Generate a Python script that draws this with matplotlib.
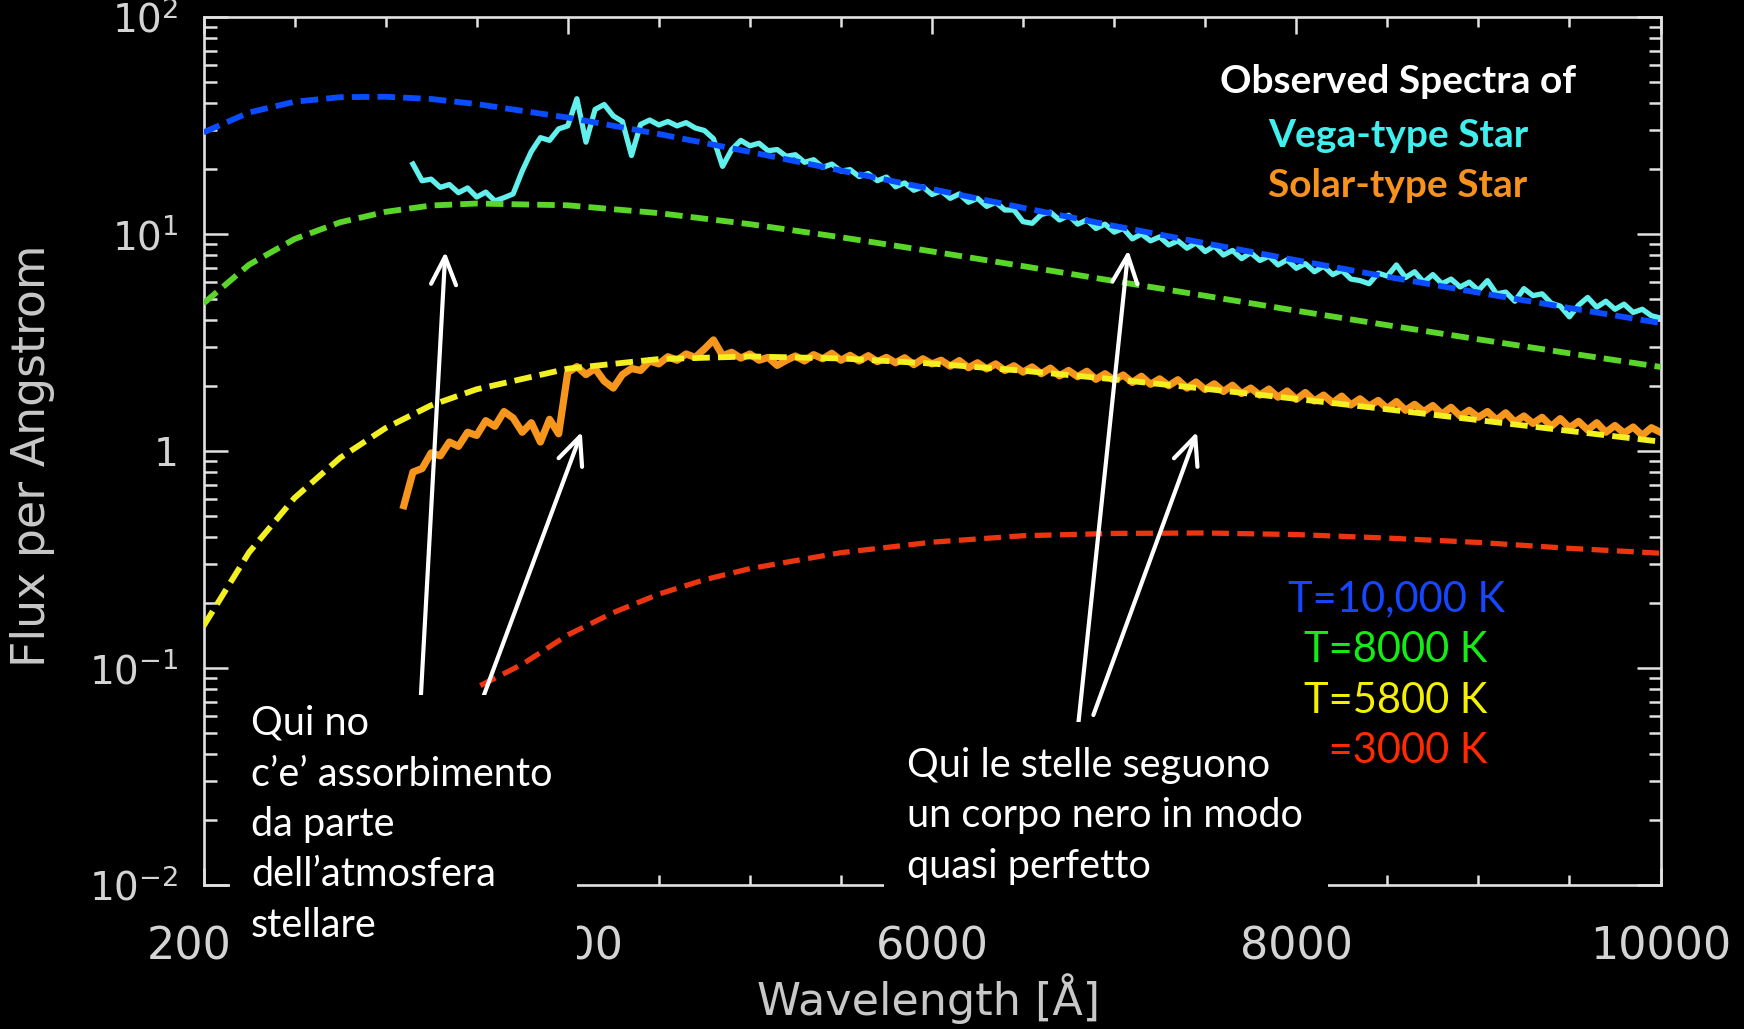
#!/usr/bin/env python

import numpy as np
import matplotlib
matplotlib.use("Agg")
import matplotlib.pyplot as plt
from matplotlib.patches import Rectangle
from matplotlib.ticker import MultipleLocator, LogLocator, NullFormatter

# blackbody curves, wavelength in Angstrom
bb_wl = [2000, 2250, 2500, 2750, 3000, 3250, 3500, 4000, 4500, 5000,
         5500, 6000, 6500, 7000, 7500, 8000, 8500, 9000, 9500, 10000]
bb_10000 = [29.4, 36.3, 40.7, 42.7, 42.9, 41.9, 39.7, 34.4, 28.9, 23.9,
            19.6, 16.1, 13.2, 10.9, 9.07, 7.57, 6.35, 5.37, 4.56, 3.89]
bb_8000 = [4.79, 7.22, 9.48, 11.32, 12.65, 13.53, 13.82, 13.56, 12.48, 11.10,
           9.66, 8.31, 7.11, 6.07, 5.19, 4.43, 3.80, 3.27, 2.82, 2.44]
bb_5800 = [0.156, 0.341, 0.608, 0.930, 1.276, 1.624, 1.925, 2.396, 2.653, 2.727,
           2.670, 2.529, 2.343, 2.140, 1.935, 1.739, 1.556, 1.388, 1.237, 1.104]

red_wl = [3520, 3750, 4000, 4250, 4500, 4750, 5000, 5500, 6000,
          6500, 7000, 7500, 8000, 8500, 9000, 9500, 10000]
bb_3000 = [0.083, 0.104, 0.142, 0.180, 0.219, 0.255, 0.287, 0.340, 0.380,
           0.407, 0.417, 0.419, 0.412, 0.397, 0.379, 0.356, 0.338]

# observed spectra, one value every 50 A
vega_start = 3150
vega_flux = [21.0, 17.6, 17.9, 16.4, 16.9, 15.5, 16.3, 14.8, 15.6, 14.2,
             14.7, 15.3, 19.5, 24.0, 27.8, 27.0, 30.5, 31.5, 42.0, 26.5,
             37.5, 39.5, 35.0, 33.0, 23.0, 32.0, 33.5, 31.8, 33.0, 31.5,
             32.6, 30.8, 30.0, 27.5, 20.5, 24.5, 27.0, 25.5, 26.2, 24.2,
             24.5, 22.8, 23.2, 21.4, 22.0, 20.3, 21.0, 19.5, 19.8, 18.4,
             19.0, 17.6, 18.3, 16.5, 17.2, 15.9, 16.5, 15.2, 15.8, 14.6,
             15.3, 14.0, 14.6, 13.4, 14.0, 12.9, 12.9, 11.4, 11.2, 12.3,
             12.6, 11.6, 12.2, 11.1, 11.6, 10.6, 11.1, 10.2, 10.6, 9.5,
             10.0, 9.3, 9.7, 8.9, 9.3, 8.6, 9.1, 8.3, 8.8, 8.0,
             8.4, 7.7, 8.2, 7.55, 7.9, 7.2, 7.6, 6.95, 7.3, 6.7,
             7.1, 6.5, 6.8, 6.2, 6.1, 5.9, 6.6, 6.4, 7.2, 6.3,
             6.7, 6.0, 6.5, 5.9, 6.2, 5.7, 6.0, 5.5, 6.1, 5.3,
             5.4, 4.9, 5.6, 5.2, 5.3, 4.8, 4.65, 4.15, 4.7, 5.1,
             4.6, 4.9, 4.5, 4.75, 4.35, 4.5, 4.2, 4.1]

sun_start = 3100
sun_flux = [0.56, 0.80, 0.83, 0.98, 0.95, 1.10, 1.05, 1.22, 1.18, 1.38,
            1.30, 1.52, 1.42, 1.22, 1.35, 1.10, 1.40, 1.20, 2.30, 2.45,
            2.25, 2.40, 2.10, 1.95, 2.25, 2.40, 2.35, 2.60, 2.52, 2.72,
            2.62, 2.80, 2.70, 2.95, 3.25, 2.75, 2.85, 2.68, 2.80, 2.62,
            2.70, 2.48, 2.62, 2.74, 2.60, 2.78, 2.66, 2.82, 2.62, 2.76,
            2.60, 2.75, 2.58, 2.70, 2.55, 2.69, 2.50, 2.66, 2.52, 2.62,
            2.46, 2.61, 2.42, 2.55, 2.39, 2.52, 2.35, 2.47, 2.31, 2.44,
            2.27, 2.41, 2.22, 2.35, 2.20, 2.33, 2.14, 2.27, 2.12, 2.24,
            2.07, 2.21, 2.03, 2.15, 2.00, 2.13, 1.95, 2.08, 1.92, 2.04,
            1.88, 2.01, 1.84, 1.95, 1.81, 1.93, 1.77, 1.89, 1.73, 1.86,
            1.70, 1.81, 1.67, 1.79, 1.63, 1.74, 1.61, 1.71, 1.57, 1.69,
            1.54, 1.64, 1.52, 1.62, 1.48, 1.59, 1.45, 1.54, 1.43, 1.52,
            1.39, 1.50, 1.36, 1.45, 1.34, 1.43, 1.30, 1.41, 1.28, 1.37,
            1.25, 1.35, 1.22, 1.31, 1.21, 1.29, 1.18, 1.28, 1.22]

vega_wl = vega_start + 50 * np.arange(len(vega_flux))
sun_wl = sun_start + 50 * np.arange(len(sun_flux))

W, H = 1744, 1029
def fx(px):
    return px / W
def fy(py):
    return 1 - py / H

fig = plt.figure(figsize=(W / 100, H / 100), dpi=100, facecolor="black")
ax = fig.add_axes([fx(203.5), fy(885), (1660.5 - 203.5) / W, (885 - 17) / H])
ax.set_facecolor("black")

# spectra first, blackbodies dashed on top
ax.plot(vega_wl, vega_flux, color="#62f0ec", lw=3.8, zorder=2)
ax.plot(sun_wl, sun_flux, color="#f7961c", lw=5.2, zorder=2)

dash = dict(lw=4.2, dashes=(3.0, 1.4), zorder=3)
ax.plot(bb_wl, bb_10000, color="#0a4cff", **dash)
ax.plot(bb_wl, bb_8000, color="#5ad62a", **dash)
ax.plot(bb_wl, bb_5800, color="#f2f020", **dash)
ax.plot(red_wl, bb_3000, color="#ec3510", lw=3.8, dashes=(3.2, 1.6), zorder=3)

ax.set_xlim(2000, 10000)
ax.set_yscale("log")
ax.set_ylim(1e-2, 1e2)

ax.xaxis.set_major_locator(MultipleLocator(2000))
ax.xaxis.set_minor_locator(MultipleLocator(500))
ax.set_yticks([1e-2, 1e-1, 1, 10, 100])
ax.set_yticklabels(["$10^{-2}$", "$10^{-1}$", "1", "$10^{1}$", "$10^{2}$"])
ax.yaxis.set_minor_locator(LogLocator(base=10, subs=np.arange(2, 10)))
ax.yaxis.set_minor_formatter(NullFormatter())

axcol = "#e2e2e2"
for s in ax.spines.values():
    s.set_color(axcol)
    s.set_linewidth(1.9)
ax.tick_params(which="both", direction="in", top=True, right=True,
               color=axcol, width=1.8, labelcolor="#d4d4d4")
ax.tick_params(axis="x", which="major", length=12, pad=29, labelsize=32)
ax.tick_params(axis="x", which="minor", length=7)
ax.tick_params(axis="y", which="major", length=17, pad=18, labelsize=28)
ax.tick_params(axis="y", which="minor", length=9)

fig.text(fx(33), fy(456), "Flux per Angstrom", rotation=90, ha="center",
         va="center", fontsize=33, color="#c8c8c8")
fig.text(fx(929), fy(1015), "Wavelength [Å]", ha="center", va="baseline",
         fontsize=32, color="#c8c8c8")

# legends drawn with the axes so the boxes can hide part of them
lg = dict(ha="center", va="baseline", fontsize=28, family="Lato",
          fontweight="bold", transform=fig.transFigure)
ax.text(fx(1398), fy(93), "Observed Spectra of", color="white", **lg)
ax.text(fx(1398), fy(147), "Vega-type Star", color="#3ef0ee", **lg)
ax.text(fx(1398), fy(197), "Solar-type Star", color="#f7921c", **lg)

tl = dict(ha="center", va="baseline", fontsize=30, family="Lato",
          transform=fig.transFigure)
ax.text(fx(1396), fy(611), "T=10,000 K", color="#1646ff", **tl)
ax.text(fx(1396), fy(662), "T=8000 K", color="#14ec14", **tl)
ax.text(fx(1396), fy(713), "T=5800 K", color="#f4f000", **tl)
ax.text(fx(1396), fy(763), "T=3000 K", color="#ff2a00", **tl)

# arrows (tip, tail) in data units
arrows = [((3328, 8.29), (3193, 0.0728)),
          ((4077, 1.227), (3499, 0.0607)),
          ((7078, 8.43), (6801, 0.0529)),
          ((7455, 1.227), (6886, 0.0607))]
for tip, tail in arrows:
    ax.annotate("", xy=tip, xytext=tail, annotation_clip=False,
                arrowprops=dict(arrowstyle="->,head_length=2.0,head_width=0.9",
                                color="white", lw=3.0, shrinkA=0, shrinkB=0))

# black text boxes over the plot
for x0, x1, y0, y1 in [(230, 577, 695, 1000), (884, 1328, 722, 905)]:
    fig.add_artist(Rectangle((fx(x0), fy(y1)), (x1 - x0) / W, (y1 - y0) / H,
                             transform=fig.transFigure, facecolor="black",
                             edgecolor="none", zorder=5))

left_lines = ["Qui no", "c’e’ assorbimento", "da parte", "dell’atmosfera",
              "stellare"]
for i, t in enumerate(left_lines):
    fig.text(fx(251), fy(735 + 50.5 * i), t, fontsize=28.5, family="Lato",
             color="white", va="baseline", zorder=6)

right_lines = ["Qui le stelle seguono", "un corpo nero in modo",
               "quasi perfetto"]
for i, t in enumerate(right_lines):
    fig.text(fx(907), fy(777 + 50.5 * i), t, fontsize=28.5, family="Lato",
             color="white", va="baseline", zorder=6)

plt.savefig("out.png", dpi=100, facecolor="black")
plt.close()
